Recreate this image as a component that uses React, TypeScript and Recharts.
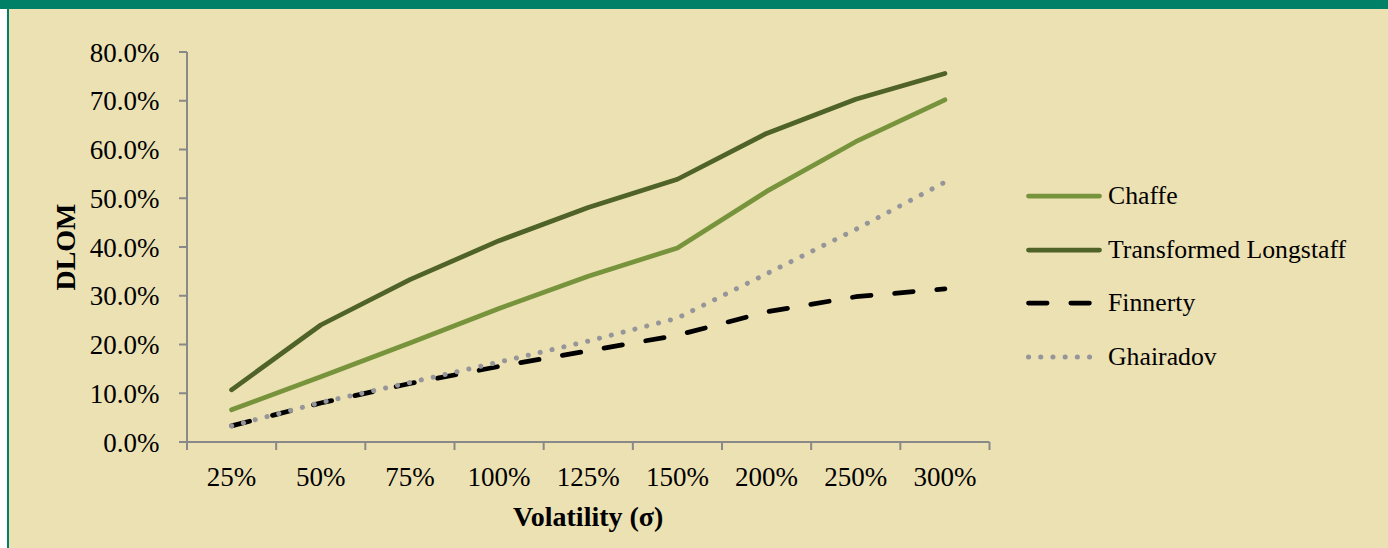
import React from "react";
import { Label, Legend, Line, LineChart, XAxis, YAxis } from "recharts";

const categories = ["25%", "50%", "75%", "100%", "125%", "150%", "200%", "250%", "300%"];
const chaffe = [6.6, 13.4, 20.3, 27.4, 34.0, 39.8, 51.4, 61.6, 70.2];
const longstaff = [10.7, 24.0, 33.3, 41.3, 48.1, 53.9, 63.3, 70.3, 75.6];
const finnerty = [3.3, 8.0, 12.0, 15.5, 18.7, 21.9, 26.7, 29.8, 31.4];
const ghairadov = [3.3, 8.1, 12.2, 16.4, 20.7, 25.4, 34.5, 43.6, 53.3];
const yTicks = [0, 10, 20, 30, 40, 50, 60, 70, 80];

const series = [
  { key: "chaffe", name: "Chaffe", color: "#77933C", width: 4.75, dash: undefined },
  { key: "longstaff", name: "Transformed Longstaff", color: "#4F6228", width: 4.75, dash: undefined },
  { key: "finnerty", name: "Finnerty", color: "#000000", width: 4.75, dash: "18.6 23.7" },
  { key: "ghairadov", name: "Ghairadov", color: "#96969A", width: 5, dash: "0.1 12.1" },
];

const data = categories.map((vol, i) => ({
  vol,
  chaffe: chaffe[i],
  longstaff: longstaff[i],
  finnerty: finnerty[i],
  ghairadov: ghairadov[i],
}));

const FONT = "'Liberation Serif', 'Times New Roman', serif";
const AXIS = "#898989";
const BG = "#ECE1B3";
const GREEN = "#008066";
const TICK_LEN = 8;
const X_MARGIN = 16.5;

// category label at band centre, tick marks on the band edges (Excel style)
function XTick(props: any) {
  const { x, y, payload, index } = props;
  const half = payload.offset || 0;
  const top = y - X_MARGIN - TICK_LEN;
  const last = index === categories.length - 1;
  return (
    <g>
      <line x1={x - half} x2={x - half} y1={top} y2={top + TICK_LEN} stroke={AXIS} strokeWidth={2} />
      {last && <line x1={x + half} x2={x + half} y1={top} y2={top + TICK_LEN} stroke={AXIS} strokeWidth={2} />}
      <text x={x} y={y} dy="0.71em" textAnchor="middle" fill="#000" fontSize={27} fontFamily={FONT}>
        {payload.value}
      </text>
    </g>
  );
}

function LegendBox() {
  return (
    <div style={{ fontFamily: FONT, fontSize: 25.75, color: "#000" }}>
      {series.map((s) => (
        <div key={s.key} style={{ height: 53.7, display: "flex", alignItems: "center" }}>
          <svg width={76} height={10} style={{ display: "block" }}>
            <line
              x1={2.5}
              x2={73.5}
              y1={5}
              y2={5}
              stroke={s.color}
              strokeWidth={s.width}
              strokeDasharray={s.dash}
              strokeLinecap="round"
            />
          </svg>
          <span style={{ marginLeft: 6, whiteSpace: "nowrap" }}>{s.name}</span>
        </div>
      ))}
    </div>
  );
}

export default function App() {
  return (
    <div style={{ position: "absolute", left: 0, top: 0, width: 1388, height: 548, background: "#fff" }}>
      <div
        style={{
          position: "absolute",
          left: 7,
          top: 0,
          width: 1379,
          height: 548,
          background: BG,
          borderLeft: `2px solid ${GREEN}`,
        }}
      />
      <div style={{ position: "absolute", left: 0, top: 0, width: 1388, height: 9, background: GREEN }} />
      <div style={{ position: "absolute", left: 0, top: 0 }}>
        <LineChart width={1388} height={548} data={data} margin={{ top: 52, right: 398.5, bottom: 0, left: 0 }}>
          <XAxis
            dataKey="vol"
            type="category"
            scale="band"
            interval={0}
            height={106}
            axisLine={{ stroke: AXIS, strokeWidth: 2 }}
            tickLine={false}
            tickSize={TICK_LEN}
            tickMargin={X_MARGIN}
            tick={XTick}
          >
            <Label
              value="Volatility (σ)"
              position="insideBottom"
              offset={22}
              fill="#000"
              fontSize={28}
              fontWeight="bold"
              fontFamily={FONT}
            />
          </XAxis>
          <YAxis
            domain={[0, 80]}
            ticks={yTicks}
            width={187}
            tickSize={TICK_LEN}
            tickMargin={19.5}
            tickFormatter={(v: number) => v.toFixed(1) + "%"}
            axisLine={{ stroke: AXIS, strokeWidth: 2 }}
            tickLine={{ stroke: AXIS, strokeWidth: 2 }}
            tick={{ fill: "#000", fontSize: 27, fontFamily: FONT }}
          >
            <Label
              value="DLOM"
              angle={-90}
              position="center"
              dx={-28.5}
              fill="#000"
              fontSize={28}
              fontWeight="bold"
              fontFamily={FONT}
            />
          </YAxis>
          <Legend
            layout="vertical"
            align="center"
            verticalAlign="middle"
            wrapperStyle={{ left: 1026, top: 169 }}
            content={LegendBox}
          />
          {series.map((s) => (
            <Line
              key={s.key}
              type="linear"
              dataKey={s.key}
              name={s.name}
              stroke={s.color}
              strokeWidth={s.width}
              strokeDasharray={s.dash}
              strokeLinecap="round"
              strokeLinejoin="round"
              dot={false}
              activeDot={false}
              isAnimationActive={false}
            />
          ))}
        </LineChart>
      </div>
    </div>
  );
}
